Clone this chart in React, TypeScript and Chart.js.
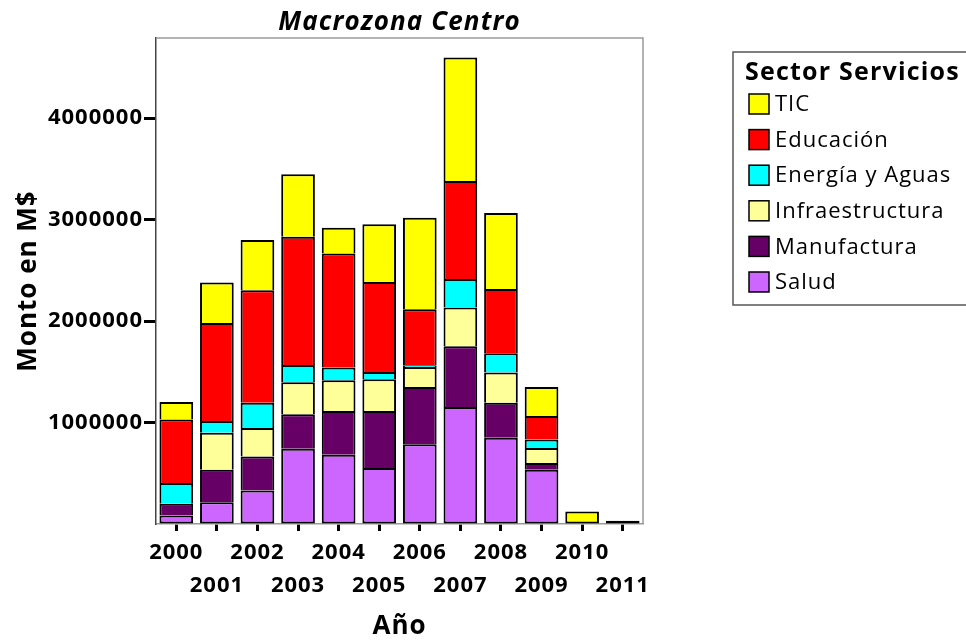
import React, { useEffect, useRef } from "react";
import { Chart, registerables } from "chart.js";

Chart.register(...registerables);

const years = ["2000", "2001", "2002", "2003", "2004", "2005", "2006", "2007", "2008", "2009", "2010", "2011"];

const salud = [84000, 215000, 331000, 742000, 683000, 551000, 785000, 1153000, 851000, 535000, 0, 0];
const manufactura = [115000, 320000, 335000, 339000, 431000, 563000, 565000, 599000, 345000, 65000, 0, 0];
const infraestructura = [0, 365000, 280000, 316000, 303000, 312000, 198000, 382000, 297000, 148000, 0, 0];
const energia = [204000, 115000, 250000, 171000, 125000, 72000, 17000, 280000, 190000, 86000, 0, 0];
const educacion = [626000, 967000, 1109000, 1263000, 1125000, 886000, 552000, 967000, 634000, 230000, 0, 0];
const tic = [173000, 399000, 493000, 616000, 253000, 570000, 902000, 1217000, 748000, 286000, 123000, 32000];

const yTicks = [1000000, 2000000, 3000000, 4000000];
const yMax = 4790000;

const chartTitle = "Macrozona Centro";
const legendTitle = "Sector Servicios";
const xTitle = "Año";
const yTitle = "Monto en M$";

const FONT = "'Open Sans', 'DejaVu Sans', sans-serif";

const spacingPlugin = {
  id: "spacing",
  beforeLayout(chart: any) {
    chart.ctx.letterSpacing = "1px";
  },
  beforeDraw(chart: any) {
    chart.ctx.letterSpacing = "1px";
  },
};

const decorPlugin = {
  id: "decor",
  afterDraw(chart: any) {
    const { ctx, chartArea } = chart;
    ctx.save();
    // frame top and right
    ctx.strokeStyle = "#9a9a9a";
    ctx.lineWidth = 1.5;
    ctx.beginPath();
    ctx.moveTo(chartArea.left, chartArea.top);
    ctx.lineTo(chartArea.right, chartArea.top);
    ctx.lineTo(chartArea.right, chartArea.bottom);
    ctx.stroke();

    // title
    ctx.fillStyle = "#000";
    ctx.letterSpacing = "1.1px";
    ctx.font = `italic bold 26px ${FONT}`;
    ctx.textAlign = "center";
    ctx.textBaseline = "middle";
    ctx.fillText(chartTitle, (chartArea.left + chartArea.right) / 2, 23);

    // legend
    const bx = 733, by = 52, bw = 260, bh = 253;
    ctx.strokeStyle = "#555";
    ctx.lineWidth = 1.5;
    ctx.strokeRect(bx, by, bw, bh);
    ctx.textAlign = "left";
    ctx.letterSpacing = "1.2px";
    ctx.font = `bold 25px ${FONT}`;
    ctx.fillText(legendTitle, 745, 73);
    const ds = chart.data.datasets.slice().reverse();
    ctx.letterSpacing = "1px";
    ctx.font = `22px ${FONT}`;
    ds.forEach((d: any, i: number) => {
      const cy = 104 + i * 35.6;
      ctx.fillStyle = d.backgroundColor;
      ctx.fillRect(749, cy - 10, 20, 20);
      ctx.strokeStyle = "#000";
      ctx.lineWidth = 1.5;
      ctx.strokeRect(749, cy - 10, 20, 20);
      ctx.fillStyle = "#000";
      ctx.fillText(d.label, 775, cy + 1);
    });
    ctx.restore();
  },
};

export default function App() {
  const ref = useRef<HTMLCanvasElement>(null);

  useEffect(() => {
    if (!ref.current) return;
    const series = [
      { label: "Salud", data: salud, backgroundColor: "#cc66ff" },
      { label: "Manufactura", data: manufactura, backgroundColor: "#660066" },
      { label: "Infraestructura", data: infraestructura, backgroundColor: "#ffff99" },
      { label: "Energía y Aguas", data: energia, backgroundColor: "#00ffff" },
      { label: "Educación", data: educacion, backgroundColor: "#ff0000" },
      { label: "TIC", data: tic, backgroundColor: "#ffff00" },
    ];
    const chart = new Chart(ref.current, {
      type: "bar",
      data: {
        labels: years.map((y, i) => (i % 2 === 0 ? [y, ""] : ["", y])),
        datasets: series.map((s, si) => ({
          ...s,
          borderColor: "#000",
          borderWidth: 2,
          borderSkipped: (c: any) => {
            const idx = c.dataIndex;
            for (let k = 0; k < si; k++) {
              if (series[k].data[idx] > 0) return "start";
            }
            return false;
          },
          barPercentage: 0.83,
          categoryPercentage: 1,
        })) as any,
      },
      options: {
        animation: false,
        responsive: true,
        maintainAspectRatio: false,
        layout: { padding: { top: 38, right: 323, left: 0, bottom: 0 } },
        plugins: { legend: { display: false }, title: { display: false }, tooltip: { enabled: false } },
        scales: {
          x: {
            stacked: true,
            afterFit: (s: any) => { s.height = 118; },
            border: { color: "#9a9a9a", width: 1.5 },
            grid: { drawOnChartArea: false, offset: false, tickLength: 7, tickWidth: 3, tickColor: "#000" },
            ticks: {
              autoSkip: false,
              maxRotation: 0,
              minRotation: 0,
              padding: 5,
              color: "#000",
              font: { family: FONT, size: 22, weight: "bold", lineHeight: 1.5 },
            },
            title: {
              display: true,
              text: xTitle,
              color: "#000",
              font: { family: FONT, size: 26, weight: "bold" },
              padding: { top: 0, bottom: 0 },
            },
          },
          y: {
            stacked: true,
            min: 0,
            max: yMax,
            afterFit: (s: any) => { s.width = 156; },
            afterBuildTicks: (s: any) => { s.ticks = [0, ...yTicks].map((v) => ({ value: v })); },
            border: { color: "#444", width: 1.5 },
            grid: {
              drawOnChartArea: false,
              tickLength: 12,
              tickWidth: 3,
              tickColor: (c: any) => (c.tick && c.tick.value === 0 ? "rgba(0,0,0,0)" : "#000"),
            },
            ticks: {
              padding: 1,
              color: "#000",
              font: { family: FONT, size: 22, weight: "bold" },
              callback: (v: any) => (v === 0 ? "" : String(v)),
            },
            title: {
              display: true,
              text: yTitle,
              color: "#000",
              font: { family: FONT, size: 26, weight: "bold" },
              padding: { top: 13, bottom: 0 },
            },
          },
        },
      },
      plugins: [spacingPlugin, decorPlugin],
    });
    return () => chart.destroy();
  }, []);

  return (
    <div style={{ position: "fixed", left: 0, top: 0, width: 966, height: 642, background: "#fff" }}>
      <canvas ref={ref} />
    </div>
  );
}
